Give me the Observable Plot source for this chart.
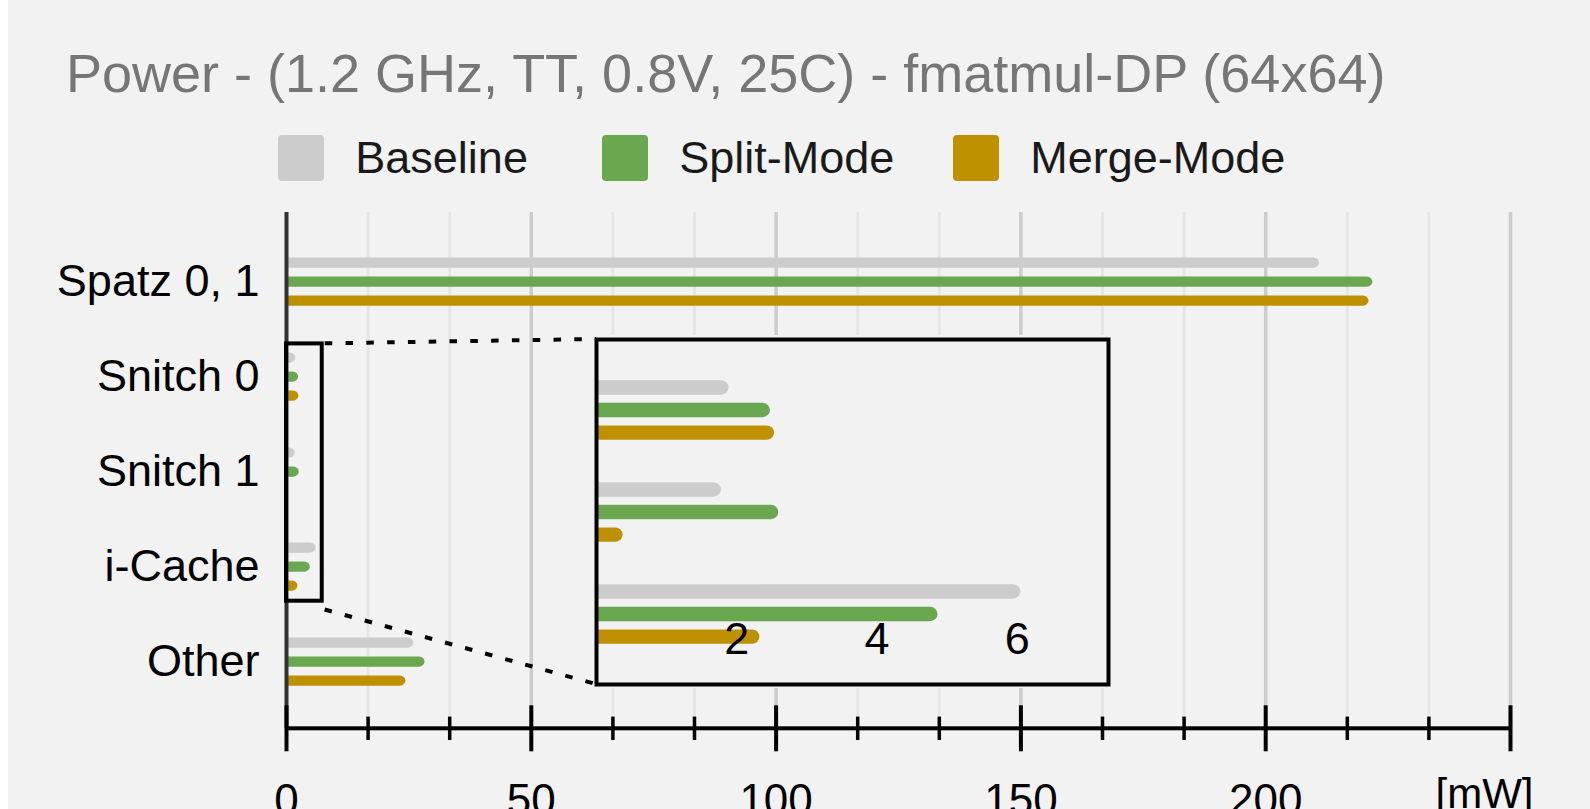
<!DOCTYPE html>
<html>
<head>
<meta charset="utf-8">
<script src="https://cdn.jsdelivr.net/npm/d3@7"></script>
<script src="https://cdn.jsdelivr.net/npm/@observablehq/plot@0.6"></script>
<style>
  html, body { margin: 0; padding: 0; overflow: hidden; background: #ffffff; }
  #root { position: relative; width: 1590px; height: 809px; overflow: hidden;
          font-family: "Liberation Sans", Arial, Helvetica, sans-serif; }
  #bg { position: absolute; left: 8px; top: 0; width: 1582px; height: 809px; background: #f2f2f2; }
  #title { position: absolute; left: 66px; top: 46px; font-size: 54px; line-height: 54px;
           color: #767676; white-space: nowrap; }
  .lg-item { position: absolute; top: 135px; height: 46px; }
  .lg-swatch { position: absolute; left: 0; top: 0; width: 46px; height: 46px; border-radius: 4px; }
  .lg-label { position: absolute; top: 0; font-size: 45px; line-height: 46px; color: #1a1a1a; white-space: nowrap; }
  svg { max-width: none !important; }
</style>
</head>
<body>
<div id="root">
  <div id="bg"></div>
</div>
<script>
// ---------------- data ----------------
const title = "Power - (1.2 GHz, TT, 0.8V, 25C) - fmatmul-DP (64x64)";
const categories = ["Spatz 0, 1", "Snitch 0", "Snitch 1", "i-Cache", "Other"];
const series = ["Baseline", "Split-Mode", "Merge-Mode"];
const colors = ["#cccccc", "#6aa84f", "#bf9000"];
const baseline  = [211.0, 1.89, 1.78, 6.05, 26.0];
const splitMode = [221.9, 2.48, 2.60, 4.87, 28.3];
const mergeMode = [221.1, 2.54, 0.38, 2.33, 24.4];
const zoomCategories = ["Snitch 0", "Snitch 1", "i-Cache"];
const xTicks = [0, 50, 100, 150, 200, 250];
const xTickLabels = ["0", "50", "100", "150", "200"];
const unitLabel = "[mW]";
const zoomTicks = [2, 4, 6];
const zoomTickLabels = ["2", "4", "6"];
const zoomMax = 7.3;

// ---------------- layout ----------------
const FONT = '"Liberation Sans", Arial, Helvetica, sans-serif';
const W = 1590, H = 809;
const mTop = 212, mBottom = H - 728.3, mLeft = 286, mRight = W - 1510;
const frameH = H - mTop - mBottom;
const step = 95.75, barT = 11, gap = 19;
const yStart = 232.6;

const seriesValues = [baseline, splitMode, mergeMode];
const rows = series.flatMap((s, k) =>
  categories.map((c, i) => ({category: c, series: s, value: seriesValues[k][i]})));

const minorTicks = d3.range(1, 15).filter(i => i % 3 !== 0).map(i => (i * 50) / 3);

// bars: rounded right end, square left end (left rounding pushed out of the frame and clipped)
function barMarks(data, bw, thick, offset) {
  const ins = (bw - thick) / 2;
  return series.map((s, k) =>
    Plot.barX(data.filter(r => r.series === s), {
      x1: () => 0, x2: "value", y: "category", fill: colors[k],
      rx: thick / 2, insetTop: ins, insetBottom: ins, insetLeft: -thick / 2,
      dy: (k - 1) * offset, clip: true
    }));
}

const root = document.getElementById("root");

// ---------------- main plot ----------------
const main = Plot.plot({
  width: W, height: H,
  marginTop: mTop, marginBottom: mBottom, marginLeft: mLeft, marginRight: mRight,
  x: {domain: d3.extent(xTicks), axis: null},
  y: {domain: categories, range: [yStart, yStart + step * categories.length], padding: 0, axis: null},
  style: {fontFamily: FONT, fontSize: "45px", color: "#000"},
  marks: [
    Plot.ruleX(minorTicks, {x: d => d, stroke: "#e6e6e6", strokeWidth: 3}),
    Plot.ruleX(xTicks.slice(1), {x: d => d, stroke: "#cccccc", strokeWidth: 3.5}),
    ...barMarks(rows, step, barT, gap),
    Plot.ruleX([xTicks[0]], {x: d => d, stroke: "#333333", strokeWidth: 4}),
    Plot.barX([d3.extent(xTicks)], {x1: d => d[0], x2: d => d[1], fill: "#000",
      insetTop: frameH - 2, insetBottom: -2}),
    Plot.ruleX(xTicks, {x: d => d, stroke: "#000", strokeWidth: 4,
      insetTop: frameH - 23, insetBottom: -23}),
    Plot.ruleX(minorTicks, {x: d => d, stroke: "#000", strokeWidth: 3.5,
      insetTop: frameH - 11.7, insetBottom: -11.7}),
    Plot.text(categories, {y: d => d, text: d => d, frameAnchor: "left", dx: -27,
      textAnchor: "end", lineAnchor: "middle", fontSize: 45, fill: "#000"}),
    Plot.text(xTickLabels, {x: (d, i) => xTicks[i], text: d => d, frameAnchor: "bottom",
      lineAnchor: "top", dy: 55, fontSize: 44, fill: "#000"}),
    Plot.text([unitLabel], {x: () => xTicks[xTicks.length - 1], text: d => d, frameAnchor: "bottom",
      lineAnchor: "top", dy: 49, dx: -26, fontSize: 42, fill: "#000"})
  ]
});
Object.assign(main.style, {position: "absolute", left: "0px", top: "0px",
  background: "transparent", maxWidth: "none", overflow: "visible"});
root.appendChild(main);

// ---------------- title & legend ----------------
const t = document.createElement("div");
t.id = "title"; t.textContent = title;
root.appendChild(t);

const legendLefts = [278.3, 602.3, 953.3];
series.forEach((s, k) => {
  const item = document.createElement("div");
  item.className = "lg-item";
  item.style.left = legendLefts[k] + "px";
  const sw = document.createElement("div");
  sw.className = "lg-swatch"; sw.style.background = colors[k];
  const lb = document.createElement("div");
  lb.className = "lg-label"; lb.style.left = "77px"; lb.textContent = s;
  item.appendChild(sw); item.appendChild(lb);
  root.appendChild(item);
});

// ---------------- inset (zoom) plot ----------------
const IL = 592, IT = 335, IW = 520, IH = 353, im = 4;
const zStep = 102.55, zBarT = 15, zGap = 22.6;
const zStart = 357.9 - IT;
const zoomRows = rows.filter(r => zoomCategories.includes(r.category));
const inset = Plot.plot({
  width: IW, height: IH, margin: im,
  x: {domain: [0, zoomMax], axis: null},
  y: {domain: zoomCategories, range: [zStart, zStart + zStep * zoomCategories.length], padding: 0, axis: null},
  style: {fontFamily: FONT, fontSize: "45px", color: "#000"},
  marks: [
    ...barMarks(zoomRows, zStep, zBarT, zGap),
    Plot.text(zoomTickLabels, {x: (d, i) => zoomTicks[i], text: d => d, frameAnchor: "bottom",
      lineAnchor: "bottom", dy: -31, fontSize: 45, fill: "#000"}),
    Plot.frame({stroke: "#000", strokeWidth: 4})
  ]
});
Object.assign(inset.style, {position: "absolute", left: IL + "px", top: IT + "px",
  background: "#f2f2f2", maxWidth: "none"});
root.appendChild(inset);

// ---------------- zoom box and connectors ----------------
const xs = main.scale("x"), ys = main.scale("y");
const bw = ys.bandwidth != null ? ys.bandwidth : step;
const rx0 = xs.apply(0), rx1 = xs.apply(zoomMax);
const rTop = ys.apply(zoomCategories[0]) + 14.4;
const rBottom = ys.apply(zoomCategories[zoomCategories.length - 1]) + bw - 13.3;
const ixs = inset.scale("x");
const boxL = IL + ixs.apply(0), boxT = IT + im, boxB = IT + IH - im;

const ov = d3.select(root).append("svg")
  .attr("width", W).attr("height", H)
  .style("position", "absolute").style("left", "0px").style("top", "0px")
  .style("pointer-events", "none");
ov.append("rect").attr("x", rx0).attr("y", rTop)
  .attr("width", rx1 - rx0).attr("height", rBottom - rTop)
  .attr("fill", "none").attr("stroke", "#000").attr("stroke-width", 4);
const dash = {"stroke": "#000", "stroke-width": 4, "stroke-dasharray": "7.5 13.3", "stroke-dashoffset": -3};
const l1 = ov.append("line").attr("x1", rx1).attr("y1", rTop).attr("x2", boxL).attr("y2", boxT);
const l2 = ov.append("line").attr("x1", rx1).attr("y1", rBottom + 8).attr("x2", boxL).attr("y2", boxB);
for (const l of [l1, l2]) for (const [k, v] of Object.entries(dash)) l.attr(k, v);
</script>
</body>
</html>
